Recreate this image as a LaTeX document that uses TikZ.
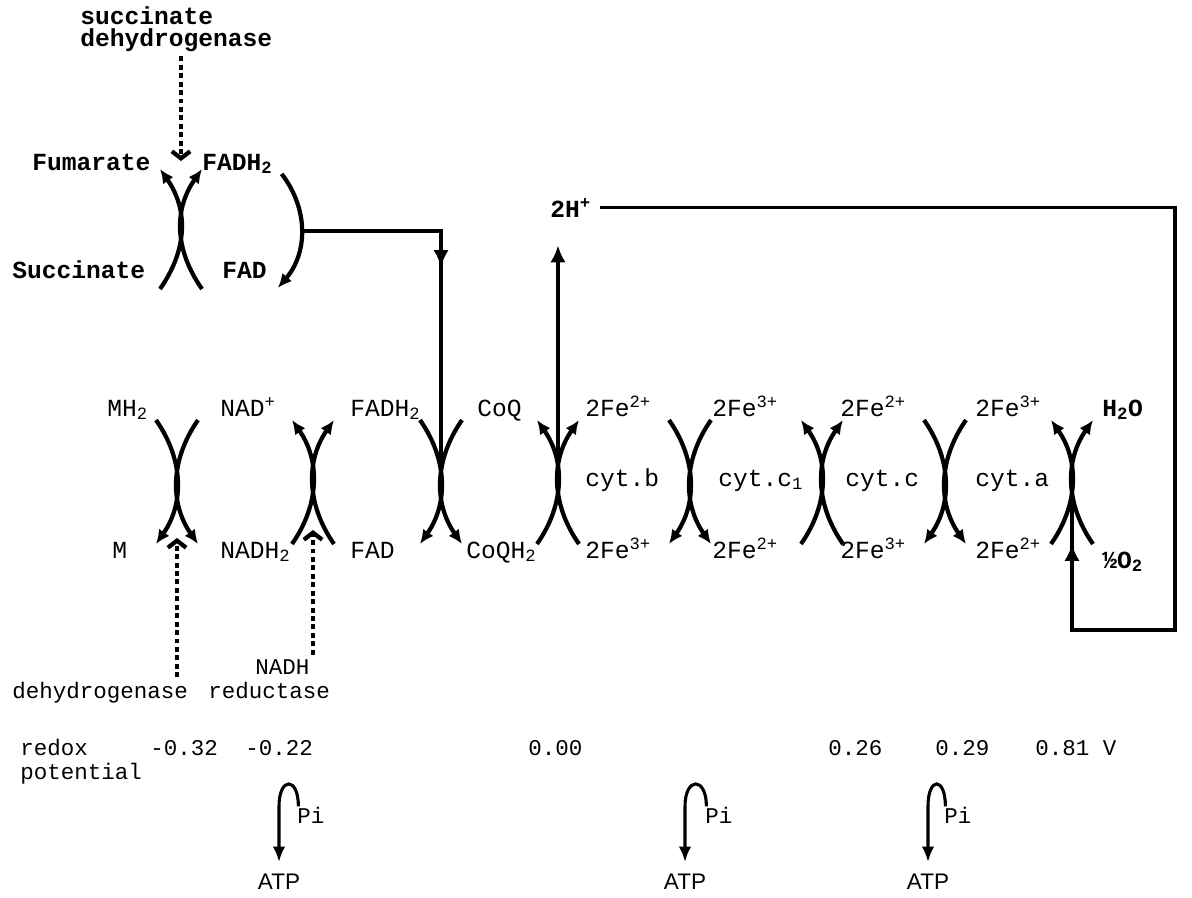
\documentclass[tikz,border=0pt]{standalone}
\usepackage{fontspec}
\setmonofont{Liberation Mono}
\setsansfont{Liberation Sans}
\usetikzlibrary{arrows.meta,positioning,calc}

\begin{document}
\begin{tikzpicture}[
        x=0.025cm, y=-0.025cm,
        font=\ttfamily\fontsize{17.5}{17.5}\selectfont,
        lbl/.style={inner sep=0pt, anchor=base west},
        heavy/.style={lbl, font=\ttfamily\bfseries\fontsize{17.5}{16}\selectfont},
        small/.style={lbl, font=\ttfamily\fontsize{16}{16}\selectfont},
        atp/.style={inner sep=0pt, anchor=base, font=\sffamily\fontsize{16}{16}\selectfont},
        rxn/.style={line width=3pt},
        wire/.style={line width=2.6pt},
        big/.style={-{Latex[length=12pt,width=11pt]}},
        dots/.style={line width=3.4pt, dash pattern=on 3.5pt off 2.5pt, shorten <=3pt,
            -{Straight Barb[length=5pt,width=13pt,line width=3pt]}},
        hook/.style={line width=2.2pt, shorten >=8pt, -{Latex[length=11pt,width=9pt]}},
        >={Latex[length=10pt,width=9pt]}
    ]
    \useasboundingbox (0,0) rectangle (1192,897);

    % Crossing points of the coupled reactions
    \coordinate (k0) at (181,229);
    \coordinate (k1) at (177,482);
    \coordinate (k2) at (313,482);
    \coordinate (k3) at (441,482);
    \coordinate (k4) at (558,482);
    \coordinate (k5) at (690,482);
    \coordinate (k6) at (822,482);
    \coordinate (k7) at (945,482);
    \coordinate (k8) at (1072,482);

    % Succinate branch
    \node[heavy, anchor=north west, align=left] (sdh) at (80,6) {succinate\\dehydrogenase};
    \node[heavy] (fum)   at (32,170)  {Fumarate};
    \node[heavy] (fadhA) at (202,170) {FADH\textsubscript{2}};
    \node[heavy] (suc)   at (12,278)  {Succinate};
    \node[heavy] (fadA)  at (222,278) {FAD};

    \draw[dots] (sdh.south -| k0) -- ($(k0)+(0,-68)$);
    \draw[rxn,<-] ($(k0)+(-21,-60)$) .. controls +(28,40) and +(28,-40) .. ($(k0)+(-21,60)$);
    \draw[rxn,<-] ($(k0)+(21,-60)$) .. controls +(-28,40) and +(-28,-40) .. ($(k0)+(21,60)$);

    % FADH2 -> FAD, electrons passed down to CoQ
    \draw[rxn,->] ($(fadhA.south east)+(9,0)$) .. controls +(27,35) and +(30,-35) ..
        node[coordinate, pos=0.5] (bulge) {} ($(fadA.east)+(11,18)$);
    \draw[wire] (bulge) -| (k3);
    \draw[wire,big] (k3 |- bulge) -- ++(0,36);

    % Main chain, upper row
    \node[lbl] (mh2)   at (107,416) {MH\textsubscript{2}};
    \node[lbl] (nadp)  at (220,416) {NAD\textsuperscript{+}};
    \node[lbl] (fadhB) at (350,416) {FADH\textsubscript{2}};
    \node[lbl] (coq)   at (477,416) {CoQ};
    \node[lbl] (feb2)  at (585,416) {2Fe\textsuperscript{2+}};
    \node[lbl] (fec3)  at (712,416) {2Fe\textsuperscript{3+}};
    \node[lbl] (fecc2) at (840,416) {2Fe\textsuperscript{2+}};
    \node[lbl] (fea3)  at (975,416) {2Fe\textsuperscript{3+}};
    \node[heavy] (water) at (1102,416) {H\textsubscript{2}O};

    % Main chain, carriers
    \node[lbl] (cytb)  at (585,486) {cyt.b};
    \node[lbl] (cytc1) at (718,486) {cyt.c\textsubscript{1}};
    \node[lbl] (cytc)  at (845,486) {cyt.c};
    \node[lbl] (cyta)  at (975,486) {cyt.a};

    % Main chain, lower row
    \node[lbl] (m)     at (112,558) {M};
    \node[lbl] (nadh2) at (220,558) {NADH\textsubscript{2}};
    \node[lbl] (fadB)  at (350,558) {FAD};
    \node[lbl] (coqh2) at (466,558) {CoQH\textsubscript{2}};
    \node[lbl] (feb3)  at (585,558) {2Fe\textsuperscript{3+}};
    \node[lbl] (fec2)  at (712,558) {2Fe\textsuperscript{2+}};
    \node[lbl] (fecc3) at (840,558) {2Fe\textsuperscript{3+}};
    \node[lbl] (fea2)  at (975,558) {2Fe\textsuperscript{2+}};
    \node[heavy] (oxy) at (1102,568) {½O\textsubscript{2}};

    % 1) MH2 -> M, NAD+ -> NADH2
    \draw[rxn,->] ($(k1)+(-21,-62)$) .. controls +(28,40) and +(28,-40) .. ($(k1)+(-21,62)$);
    \draw[rxn,->] ($(k1)+(21,-62)$) .. controls +(-28,40) and +(-28,-40) .. ($(k1)+(21,62)$);
    % 2) NADH2 -> NAD+, FAD -> FADH2
    \draw[rxn,<-] ($(k2)+(-21,-62)$) .. controls +(28,40) and +(28,-40) .. ($(k2)+(-21,62)$);
    \draw[rxn,<-] ($(k2)+(21,-62)$) .. controls +(-28,40) and +(-28,-40) .. ($(k2)+(21,62)$);
    % 3) FADH2 -> FAD, CoQ -> CoQH2
    \draw[rxn,->] ($(k3)+(-21,-62)$) .. controls +(28,40) and +(28,-40) .. ($(k3)+(-21,62)$);
    \draw[rxn,->] ($(k3)+(21,-62)$) .. controls +(-28,40) and +(-28,-40) .. ($(k3)+(21,62)$);
    % 4) CoQH2 -> CoQ, cyt.b reduced
    \draw[rxn,<-] ($(k4)+(-21,-62)$) .. controls +(28,40) and +(28,-40) .. ($(k4)+(-21,62)$);
    \draw[rxn,<-] ($(k4)+(21,-62)$) .. controls +(-28,40) and +(-28,-40) .. ($(k4)+(21,62)$);
    % 5) cyt.b -> cyt.c1
    \draw[rxn,->] ($(k5)+(-21,-62)$) .. controls +(28,40) and +(28,-40) .. ($(k5)+(-21,62)$);
    \draw[rxn,->] ($(k5)+(21,-62)$) .. controls +(-28,40) and +(-28,-40) .. ($(k5)+(21,62)$);
    % 6) cyt.c1 -> cyt.c
    \draw[rxn,<-] ($(k6)+(-21,-62)$) .. controls +(28,40) and +(28,-40) .. ($(k6)+(-21,62)$);
    \draw[rxn,<-] ($(k6)+(21,-62)$) .. controls +(-28,40) and +(-28,-40) .. ($(k6)+(21,62)$);
    % 7) cyt.c -> cyt.a
    \draw[rxn,->] ($(k7)+(-21,-62)$) .. controls +(28,40) and +(28,-40) .. ($(k7)+(-21,62)$);
    \draw[rxn,->] ($(k7)+(21,-62)$) .. controls +(-28,40) and +(-28,-40) .. ($(k7)+(21,62)$);
    % 8) cyt.a -> O2
    \draw[rxn,<-] ($(k8)+(-21,-62)$) .. controls +(28,40) and +(28,-40) .. ($(k8)+(-21,62)$);
    \draw[rxn,<-] ($(k8)+(21,-62)$) .. controls +(-28,40) and +(-28,-40) .. ($(k8)+(21,62)$);

    % Protons
    \node[heavy] (hplus) at (550,217) {2H\textsuperscript{+}};
    \coordinate (corner) at (1175,630);
    \draw[wire,big, shorten >=20pt] (k4) -- (k4 |- hplus.south);
    \draw[wire] ([xshift=6pt]hplus.east) -| (corner) -| (k8);
    \draw[wire,big] (k8 |- corner) -- ++(0,-86);

    % Enzymes
    \node[small] (mdh)  at (12,698)  {dehydrogenase};
    \node[small] (nred) at (208,698) {reductase};
    \node[small] (nadh) at (255,674) {NADH};
    \draw[dots] (mdh.north -| k1) -- ($(k1)+(0,56)$);
    \draw[dots] (nadh.north -| k2) -- ($(k2)+(0,48)$);

    % Redox potentials
    \node[small] (rdx) at (20,755)  {redox};
    \node[small] (pot) at (20,779)  {potential};
    \node[small] (v1)  at (150,755) {-0.32};
    \node[small] (v2)  at (245,755) {-0.22};
    \node[small] (v3)  at (528,755) {0.00};
    \node[small] (v4)  at (828,755) {0.26};
    \node[small] (v5)  at (935,755) {0.29};
    \node[small] (v6)  at (1035,755) {0.81 V};

    % Phosphorylation sites
    \node[small] (pi1) at (297,823) {Pi};
    \node[small] (pi2) at (705,823) {Pi};
    \node[small] (pi3) at (944,823) {Pi};
    \node[atp] (atp1) at (279,889) {ATP};
    \node[atp] (atp2) at (685,889) {ATP};
    \node[atp] (atp3) at (928,889) {ATP};
    \draw[hook] ([xshift=1pt]pi1.north west) .. controls +(0,-30) and +(0,-30) .. (atp1.north |- pi1.north west) -- (atp1.north);
    \draw[hook] ([xshift=1pt]pi2.north west) .. controls +(0,-30) and +(0,-30) .. (atp2.north |- pi2.north west) -- (atp2.north);
    \draw[hook] ([xshift=1pt]pi3.north west) .. controls +(0,-30) and +(0,-30) .. (atp3.north |- pi3.north west) -- (atp3.north);

\end{tikzpicture}
\end{document}
